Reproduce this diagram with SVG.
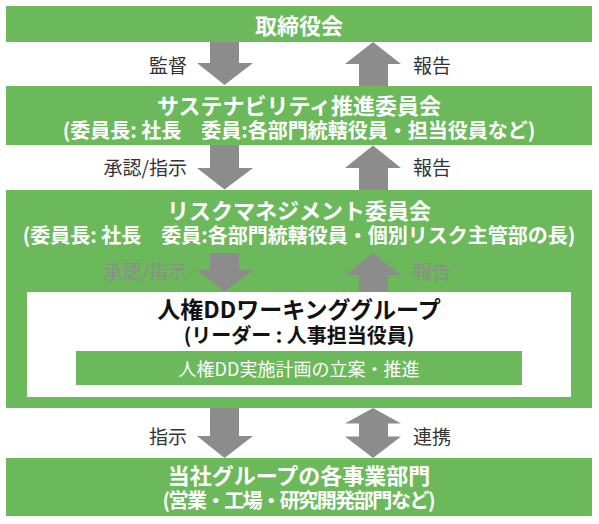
<svg xmlns="http://www.w3.org/2000/svg" width="599" height="524" viewBox="0 0 599 524">
<style>
.g{fill:#6cb95c}
.w{fill:#ffffff}
.a{fill:#8c8c8c}
text{font-family:"Noto Sans CJK JP","Noto Sans",sans-serif;dominant-baseline:central}
.t{fill:#fff;font-weight:bold;font-size:22px;text-anchor:middle}
.s{fill:#fff;font-weight:bold;font-size:20px;text-anchor:middle}
.l{fill:#333;font-size:19px}
.li{fill:#8c8c8c;font-size:19px}
.r{text-anchor:end}
</style>
<rect width="599" height="524" fill="#fff"/>
<g id="board">
<rect class="g" x="6" y="6" width="586" height="36"/>
<text class="t" x="299" y="23.5">取締役会</text>
</g>
<g id="sustainability">
<rect class="g" x="6" y="86" width="586" height="59"/>
<text class="t" x="299" y="104">サステナビリティ推進委員会</text>
<text class="s" x="299" y="129">(委員長: 社長　委員:各部門統轄役員・担当役員など)</text>
</g>
<g id="risk">
<rect class="g" x="6" y="190" width="586" height="218"/>
<text class="t" x="299" y="209">リスクマネジメント委員会</text>
<text class="s" x="299" y="234">(委員長: 社長　委員:各部門統轄役員・個別リスク主管部の長)</text>
</g>
<g id="wg">
<rect class="w" x="27" y="292" width="544" height="105"/>
<text x="299" y="308" style="font-weight:bold;font-size:23px;text-anchor:middle;fill:#111">人権DDワーキンググループ</text>
<text x="299" y="334" style="font-weight:bold;font-size:20px;text-anchor:middle;fill:#111">(リーダー : 人事担当役員)</text>
</g>
<g id="plan">
<rect class="g" x="76" y="351" width="446" height="34"/>
<text x="299" y="368" style="font-size:18px;text-anchor:middle;fill:#fff">人権DD実施計画の立案・推進</text>
</g>
<g id="divisions">
<rect class="g" x="6" y="458" width="586" height="58"/>
<text class="t" x="299" y="474">当社グループの各事業部門</text>
<text class="s" x="299" y="499" textLength="273" lengthAdjust="spacing">(営業・工場・研究開発部門など)</text>
</g>
<g id="connectors">
<polygon class="a" points="210,42 239,42 239,63 253,63 224.5,85 197,63 210,63"/>
<polygon class="a" points="373,42 401,64 388,64 388,86 359,86 359,64 345,64"/>
<polygon class="a" points="210,145 239,145 239,168 253,168 224.5,189.5 197,168 210,168"/>
<polygon class="a" points="373,145.5 401,168 388,168 388,190 359,190 359,168 345,168"/>
<polygon class="a" points="210,253 239,253 239,270 253,270 224.5,292 197,270 210,270"/>
<polygon class="a" points="373,253 401,275 388,275 388,292 359,292 359,275 345,275"/>
<polygon class="a" points="210,408 239,408 239,436 253,436 224.5,458 197,436 210,436"/>
<polygon class="a" points="373,408 401,423.5 388,423.5 388,436.5 401,436.5 373,458 345,436.5 359,436.5 359,423.5 345,423.5"/>
<text class="l r" x="187" y="64">監督</text>
<text class="l" x="413" y="64">報告</text>
<text class="l r" x="187" y="166">承認/指示</text>
<text class="l" x="413" y="166">報告</text>
<text class="li r" x="187" y="270">承認/指示</text>
<text class="li" x="413" y="270">報告</text>
<text class="l r" x="187" y="435">指示</text>
<text class="l" x="413" y="435">連携</text>
</g>
</svg>
